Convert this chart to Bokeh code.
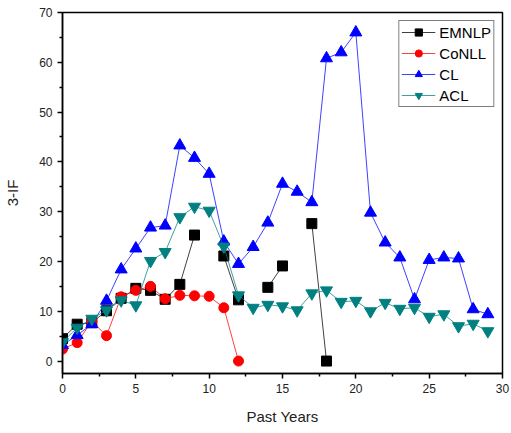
import numpy as np
from bokeh.plotting import figure
from bokeh.models import Range1d, FixedTicker, Legend, LegendItem
from bokeh.embed import file_html
from bokeh.resources import INLINE

nan = float("nan")
years = list(range(30))
emnlp = [4.5, 7.4, 7.7, 10.1, 12.6, 14.6, 14.2, 12.4, 15.4, 25.3, nan, 21.1, 12.3,
         nan, 14.8, 19.1, nan, 27.6, 0.0] + [nan] * 11
conll = [2.4, 3.7, 8.0, 5.1, 12.9, 14.2, 15.0, 12.5, 13.2, 13.1, 13.0, 10.7, 0.0] + [nan] * 17
cl = [3.2, 5.2, 7.4, 12.1, 18.4, 22.6, 26.8, 27.2, 43.3, 40.8, 37.6, 24.0, 19.5, 22.9,
      27.8, 35.6, 34.0, 31.9, 60.8, 62.0, 66.0, 29.8, 23.8, 20.8, 12.4, 20.3, 20.8,
      20.6, 10.4, 9.4]
acl = [3.8, 6.7, 8.5, 10.2, 12.2, 11.2, 20.1, 21.9, 28.9, 31.0, 30.2, 23.0, 13.2, 10.7,
       11.3, 11.0, 10.2, 13.6, 14.2, 11.9, 12.1, 10.0, 11.7, 10.5, 10.7, 8.9, 9.4, 7.0,
       7.5, 6.0]

series = [
    ("EMNLP", emnlp, "#000000", "square", 10),
    ("CoNLL", conll, "#ff0000", "circle", 10),
    ("CL", cl, "#0000ff", "triangle", 12),
    ("ACL", acl, "#008080", "inverted_triangle", 12),
]

FONT = "Liberation Sans"

p = figure(width=511, height=433, output_backend="svg", toolbar_location=None,
           x_range=Range1d(0, 30), y_range=Range1d(-2.5, 70),
           min_border_left=62, min_border_right=9, min_border_top=12, min_border_bottom=60)
p.xgrid.visible = False
p.ygrid.visible = False
p.outline_line_color = "black"
p.outline_line_width = 1.5
p.background_fill_color = "white"
p.border_fill_color = "white"

items = []
for name, vals, color, marker, size in series:
    x = np.array(years, dtype=float)
    y = np.array(vals, dtype=float)
    r1 = p.line(x, y, line_color=color, line_width=1, line_alpha=0.75)
    mask = ~np.isnan(y)
    r2 = p.scatter(x[mask], y[mask], marker=marker, size=size, fill_color=color,
                   line_color=color)
    items.append(LegendItem(label=name, renderers=[r1, r2]))

legend = Legend(items=items, location="top_right")
legend.label_text_font = FONT
legend.label_text_font_size = "15px"
legend.label_text_color = "black"
legend.glyph_width = 34
legend.glyph_height = 18
legend.label_height = 18
legend.spacing = 3
legend.padding = 2
legend.margin = 8
legend.border_line_color = "black"
legend.border_line_width = 1
legend.label_standoff = 4
p.add_layout(legend)

for ax in (p.xaxis[0], p.yaxis[0]):
    ax.axis_line_width = 1.5
    ax.axis_line_color = "black"
    ax.major_tick_line_color = "black"
    ax.minor_tick_line_color = "black"
    ax.major_tick_line_width = 1.5
    ax.minor_tick_line_width = 1.5
    ax.major_tick_out = 5
    ax.major_tick_in = 0
    ax.minor_tick_out = 3
    ax.minor_tick_in = 0
    ax.major_label_text_font = FONT
    ax.major_label_text_font_size = "12px"
    ax.major_label_text_color = "#222222"
    ax.axis_label_text_font = FONT
    ax.axis_label_text_font_size = "15px"
    ax.axis_label_text_font_style = "normal"
    ax.axis_label_text_color = "#222222"

p.xaxis.ticker = FixedTicker(ticks=[0, 5, 10, 15, 20, 25, 30],
                             minor_ticks=[2.5, 7.5, 12.5, 17.5, 22.5, 27.5])
p.yaxis.ticker = FixedTicker(ticks=[0, 10, 20, 30, 40, 50, 60, 70],
                             minor_ticks=[5, 15, 25, 35, 45, 55, 65])
p.xaxis.axis_label = "Past Years"
p.yaxis.axis_label = "3-IF"
p.xaxis.axis_label_standoff = 12
p.yaxis.axis_label_standoff = 15

open("out.html", "w").write(file_html(p, INLINE))
